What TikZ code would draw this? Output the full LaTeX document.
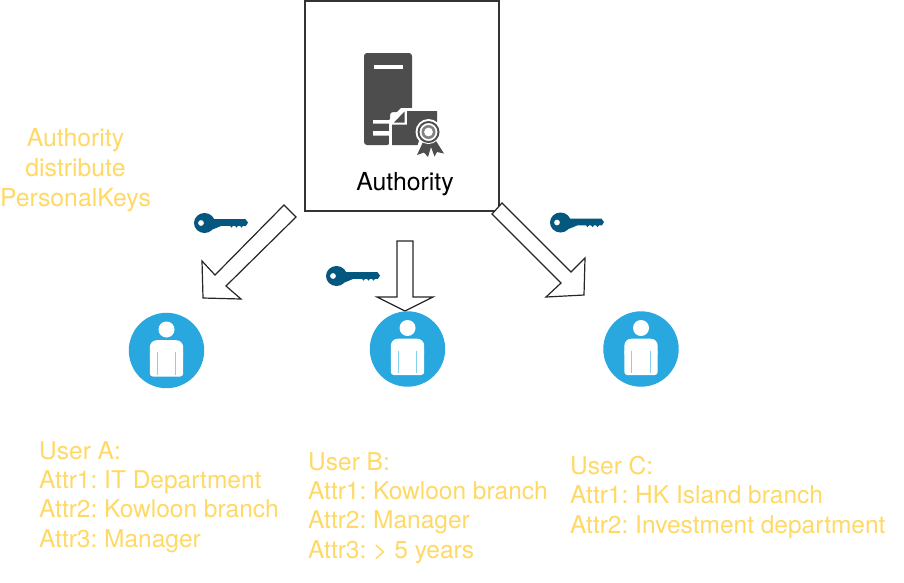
\documentclass[tikz,border=0pt]{standalone}
\usepackage{fontspec}
\setmainfont{TeX Gyre Heros}
\frenchspacing
\definecolor{txtyellow}{HTML}{FFD966}
\definecolor{keyblue}{HTML}{04577F}
\definecolor{userblue}{HTML}{29A8E0}
\definecolor{srv}{HTML}{4D4D4D}
\tikzset{
  attrtext/.style={inner sep=0pt,align=left,anchor=north west,text=txtyellow,font=\fontsize{24.5}{29.4}\selectfont},
  blockarrow/.style={draw=black!85,line width=1.2pt,fill=white,line join=miter},
  pics/userbadge/.style={code={
    \fill[userblue] (0,0) circle (37.7);
    \fill[white] (0,-21) circle (8);
    \fill[white,rounded corners=7pt] (-16.7,10) -- (-16.7,-10.3) -- (16.7,-10.3) -- (16.7,10) -- cycle;
    \fill[white,rounded corners=3pt] (-16.7,0) -- (-16.7,26) -- (16.7,26) -- (16.7,0) -- cycle;
    \draw[userblue!55,line width=.7pt] (-9.3,1.5) -- (-9.3,24) (9.3,1.5) -- (9.3,24);
  }},
  pics/keyglyph/.style={code={
    \fill[keyblue,even odd rule] (0,0) ellipse (10.5 and 10) (-3.5,0) circle (3);
    \fill[keyblue] (6,-3.8) -- (41,-3.8) -- (43.5,-.5) -- (41.5,2.8) -- (38.5,2.8) -- (37,4.6) -- (35.5,2.8) -- (33.5,2.8) -- (32,4.6) -- (30.5,2.8) -- (28.5,2.8) -- (27,4.6) -- (25.5,2.8) -- (17,2.8) -- (8,6.5) -- cycle;
  }}
}
\begin{document}
\begin{tikzpicture}[x=1pt,y=-1pt]
\useasboundingbox (0,0) rectangle (904,582);
\fill[white] (0,0) rectangle (904,582);
% authority box
\node[draw=black!80,line width=1.3pt,minimum width=194pt,minimum height=210pt,inner sep=0pt] (authbox) at (402,106) {};
% server icon
\fill[srv,rounded corners=3pt] (364,145) -- (364,53) -- (412,53) -- (412,112) -- (390,112) -- (390,145) -- cycle;
\fill[white] (373.5,64.5) rectangle (403,68.5);
\fill[white] (413,108) -- (401,108) -- (389,120) -- (373,120) -- (373,123.5) -- (389,123.5) -- (389,131) -- (373,131) -- (373,135.5) -- (389,135.5) -- (389,146) -- (413,146) -- cycle;
% certificate
\fill[srv] (392,145) -- (392,124.5) -- (407,124.5) -- (407,111) -- (437,111) -- (437,145) -- cycle;
\fill[srv] (394,122.5) -- (404.5,111.5) -- (404.5,122.5) -- cycle;
% seal
\fill[white] (428.5,132) circle (13);
\fill[white] (419,141) -- (414,157) -- (446,157) -- (438,141) -- cycle;
\fill[srv] (423,142) -- (417,155) -- (424,152.5) -- (428,157) -- (431,147) -- (434.5,156.5) -- (437,152) -- (444,153.5) -- (436,141) -- cycle;
\fill[white] (428.5,132) circle (12);
\fill[srv,even odd rule] (428.5,132) circle (11) (428.5,132) circle (9);
\fill[srv!70,even odd rule] (428.5,132) circle (7) (428.5,132) circle (4.5);
\node[inner sep=0pt,font=\fontsize{24.8}{27}\selectfont,text=black] (authlabel) at (405,184) {Authority};
% block arrows
\draw[blockarrow] (284,205) -- (296,217) -- (226,286) -- (241,299) -- (203,298) -- (202,261) -- (215,275) -- cycle;
\draw[blockarrow] (397,241) -- (413,241) -- (413,297) -- (433,297) -- (405,311) -- (377,297) -- (397,297) -- cycle;
\draw[blockarrow] (502,203) -- (492,214) -- (561,283) -- (546,297) -- (584,295) -- (585,258) -- (571,272) -- cycle;
% users
\pic at (166.5,350.5) {userbadge};
\pic at (407.5,349) {userbadge};
\pic at (641,349) {userbadge};
% keys
\pic at (204.5,223) {keyglyph};
\pic at (336.5,276) {keyglyph};
\pic at (560.5,222.5) {keyglyph};
% texts
\node[inner sep=0pt,align=center,text=txtyellow,font=\fontsize{24.8}{30}\selectfont] (distnote) at (75.5,170) {Authority\\distribute\\PersonalKeys};
\node[attrtext] (usera) at (39,441) {User A:\\Attr1: IT Department\\Attr2: Kowloon branch\\Attr3: Manager};
\node[attrtext] (userb) at (308,452) {User B:\\Attr1: Kowloon branch\\Attr2: Manager\\Attr3: > 5 years};
\node[attrtext] (userc) at (570,456) {User C:\\Attr1: HK Island branch\\Attr2: Investment department};
\end{tikzpicture}
\end{document}
